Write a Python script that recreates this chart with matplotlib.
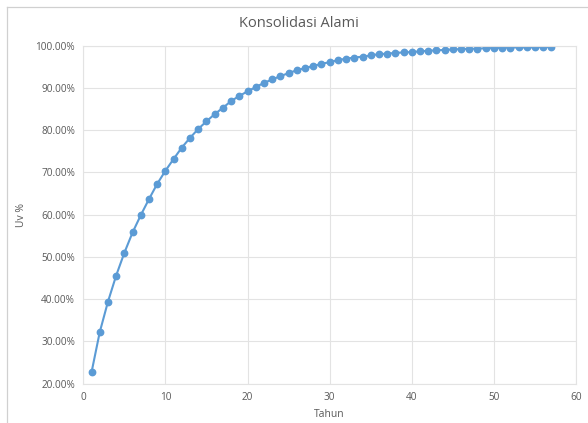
import matplotlib
matplotlib.use("Agg")
import matplotlib.pyplot as plt
from matplotlib.lines import Line2D
from matplotlib.ticker import FuncFormatter

plt.rcParams['font.family'] = ['Open Sans', 'DejaVu Sans']

# Time in years and degree of consolidation (%)
tahun = list(range(1, 58))
uv = [22.7, 32.2, 39.4, 45.6, 51.0, 55.8, 59.9, 63.7, 67.3, 70.4,
      73.2, 75.9, 78.2, 80.3, 82.1, 83.8, 85.3, 86.9, 88.1, 89.2,
      90.2, 91.2, 92.0, 92.8, 93.5, 94.2, 94.7, 95.2, 95.7, 96.1,
      96.6, 96.9, 97.2, 97.4, 97.7, 98.0, 98.1, 98.3, 98.4, 98.5,
      98.65, 98.8, 98.9, 99.0, 99.1, 99.2, 99.25, 99.3, 99.4, 99.45,
      99.5, 99.55, 99.6, 99.6, 99.65, 99.7, 99.7]

title = "Konsolidasi Alami"
xlabel = "Tahun"
ylabel = "Uv %"

text_c = "#595959"
grid_c = "#E3E3E3"
line_c = "#5B9BD5"

fig = plt.figure(figsize=(5.88, 4.23), dpi=100)
ax = fig.add_axes([0.1417, 0.0929, 0.8379, 0.7991])

ax.plot(tahun, uv, color=line_c, lw=1.5, marker='o', markersize=4.6,
        markerfacecolor=line_c, markeredgecolor=line_c)

ax.set_xlim(0, 60)
ax.set_ylim(20, 100)
ax.set_xticks(range(0, 61, 10))
ax.set_yticks(range(20, 101, 10))
ax.yaxis.set_major_formatter(FuncFormatter(lambda v, p: f"{v:.2f}%"))
ax.grid(True, color=grid_c, lw=0.8)
ax.set_axisbelow(True)
for s in ax.spines.values():
    s.set_color(grid_c)
    s.set_linewidth(0.8)
ax.tick_params(length=0, labelsize=7.2, colors=text_c, pad=6)

ax.set_xlabel(xlabel, fontsize=7.5, color=text_c, labelpad=4)
ax.set_ylabel(ylabel, fontsize=7.5, color=text_c, labelpad=6)
fig.text(0.508, 0.945, title, ha='center', va='center', fontsize=10.5, color=text_c)

# chart frame
fig.add_artist(Line2D([7/588, 7/588], [0, 1 - 7/423], transform=fig.transFigure,
                      color="#D0D0D0", lw=0.9))
fig.add_artist(Line2D([7/588, 1], [1 - 7/423, 1 - 7/423], transform=fig.transFigure,
                      color="#D0D0D0", lw=0.9))

fig.savefig("out.png", dpi=100)
